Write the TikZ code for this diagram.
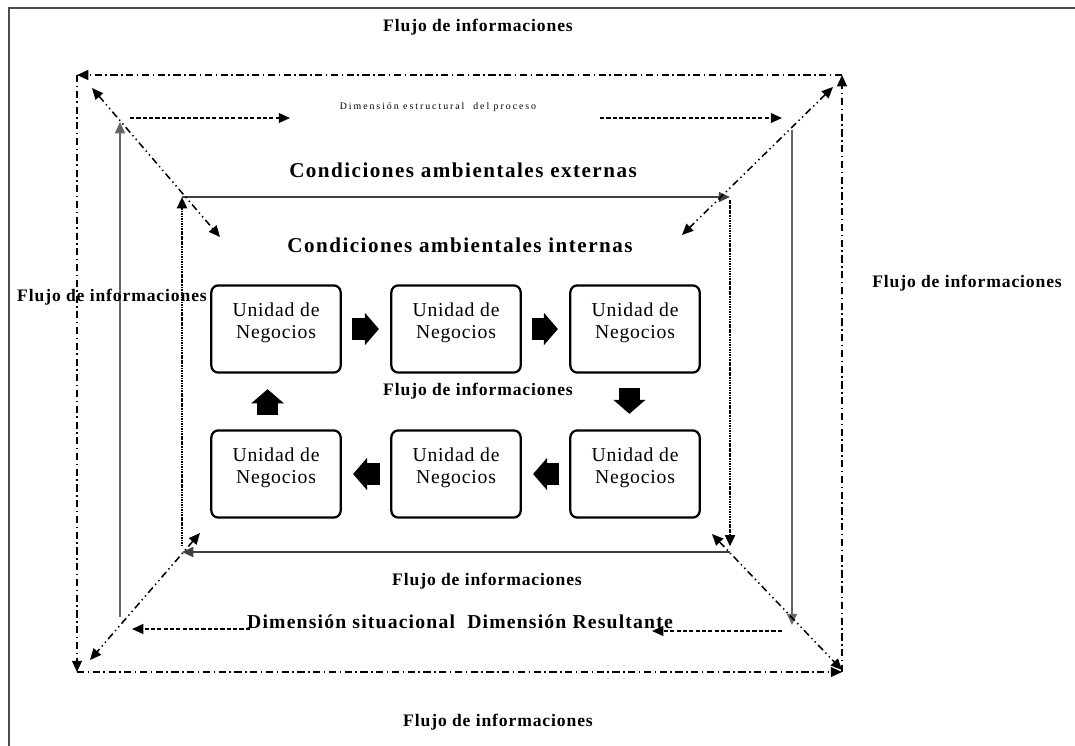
\documentclass[tikz,border=0pt]{standalone}
\usepackage{fontspec}
\setmainfont{Liberation Serif}
\newfontfamily\flowfont{Liberation Serif}[LetterSpace=5]
\newfontfamily\condfont{Liberation Serif}[LetterSpace=7]
\newfontfamily\dimfont{Liberation Serif}[LetterSpace=6]
\newfontfamily\unitfont{Liberation Serif}[LetterSpace=4]
\newfontfamily\tinyfont{Liberation Serif}[LetterSpace=20]
\usepackage{tikz}
\usetikzlibrary{arrows.meta,calc}

\begin{document}
\begin{tikzpicture}[x=0.025cm, y=-0.025cm,
        flow/.style={font=\flowfont\bfseries\fontsize{12.5}{14}\selectfont, inner sep=0pt},
        cond/.style={font=\condfont\bfseries\fontsize{15}{17}\selectfont, inner sep=0pt},
        unit/.style={draw, rounded corners=5pt, line width=1.6pt, align=center,
                     font=\unitfont\fontsize{14}{16}\selectfont,
                     minimum width=92pt, minimum height=62pt},
        tip/.style={-{Triangle[length=8pt, width=7pt]}},
        outer/.style={tip, line width=1.1pt, dash pattern=on 5pt off 2.5pt on 1.2pt off 2.5pt},
        diag/.style={{Triangle[length=8pt, width=7pt]}-{Triangle[length=8pt, width=7pt]},
                     line width=1.1pt, dash pattern=on 5pt off 2.5pt on 1pt off 2.5pt on 1pt off 2.5pt},
        mid/.style={tip, line width=1.3pt, gray!80!black},
        middash/.style={tip, line width=1.1pt, dash pattern=on 3pt off 1.5pt},
        inner/.style={tip, line width=1.5pt, black!75},
        innerdot/.style={tip, line width=1.6pt, dash pattern=on 1.2pt off 0.6pt},
        blockarr/.style={-{Triangle[length=10pt, width=22.5pt]}, line width=15pt}
    ]
        \useasboundingbox (0,0) rectangle (1075,745);
        % frame
        \draw[line width=1.2pt, black!70] (9,760) |- (1090,8);

        % corners
        \coordinate (onw) at (77,75);   \coordinate (one) at (842,75);
        \coordinate (osw) at (77,672);  \coordinate (ose) at (842,672);
        \coordinate (mnw) at (120,122); \coordinate (msw) at (120,617);
        \coordinate (mne) at (792,130); \coordinate (mse) at (792,625);
        \coordinate (inw) at (182,197); \coordinate (ine) at (730,197);
        \coordinate (isw) at (182,552); \coordinate (ise) at (730,552);

        % outer frame of the process
        \draw[outer] (one) -- (onw);
        \draw[outer] (onw) -- (osw);
        \draw[outer] (osw) -- (ose);
        \draw[outer] (ose) -- (one);

        % middle frame
        \draw[mid] (msw) -- (mnw);
        \draw[mid] (mne) -- (mse);
        \node[font=\tinyfont\fontsize{7}{8}\selectfont, inner sep=0pt] (dimest) at (438,107) {Dimensión estructural\ \ del proceso};
        \coordinate (t1) at (130,118); \coordinate (t2) at (290,118);
        \coordinate (t3) at (600,118); \coordinate (t4) at (782,118);
        \draw[middash] (t1) -- (t2);
        \draw[middash] (t3) -- (t4);
        \node[font=\dimfont\bfseries\fontsize{14}{16}\selectfont, inner sep=0pt] (dimsit) at (460,622) {Dimensión situacional\ \ Dimensión Resultante};
        \coordinate (b1) at (782,631); \coordinate (b2) at (652,631);
        \coordinate (b3) at (250,629); \coordinate (b4) at (132,629);
        \draw[middash] (b1) -- (b2);
        \draw[middash] (b3) -- (b4);

        % inner frame
        \draw[inner] (inw) -- (ine);
        \draw[innerdot] ([yshift=-2pt]ine) -- ([yshift=4pt]ise);
        \draw[inner] (ise) -- (isw);
        \draw[innerdot] ([yshift=4pt]isw) -- (inw);

        % diagonals
        \coordinate (d1) at (92,88);   \coordinate (d2) at (220,237);
        \coordinate (d3) at (833,87);  \coordinate (d4) at (682,235);
        \coordinate (d5) at (200,533); \coordinate (d6) at (90,660);
        \coordinate (d7) at (712,534); \coordinate (d8) at (842,670);
        \draw[diag] (d1) -- (d2);
        \draw[diag] (d3) -- (d4);
        \draw[diag] (d5) -- (d6);
        \draw[diag] (d7) -- (d8);

        % labels
        \node[flow] (ftop) at (478,27) {Flujo de informaciones};
        \node[flow] (fleft) at (112,297) {Flujo de informaciones};
        \node[flow] (fright) at (967,283) {Flujo de informaciones};
        \node[flow] (fmid) at (478,391) {Flujo de informaciones};
        \node[flow] (flow) at (487,581) {Flujo de informaciones};
        \node[flow] (fbot) at (498,722) {Flujo de informaciones};
        \node[cond] (ext) at (463,170) {Condiciones ambientales externas};
        \node[cond] (int) at (460,245) {Condiciones ambientales internas};

        % business units
        \node[unit] (u1) at (276,329) {Unidad de\\Negocios\\[-4pt]};
        \node[unit] (u2) at (456,329) {Unidad de\\Negocios\\[-4pt]};
        \node[unit] (u3) at (635,329) {Unidad de\\Negocios\\[-4pt]};
        \node[unit] (u4) at (635,474) {Unidad de\\Negocios\\[-4pt]};
        \node[unit] (u5) at (456,474) {Unidad de\\Negocios\\[-4pt]};
        \node[unit] (u6) at (276,474) {Unidad de\\Negocios\\[-4pt]};

        \draw[blockarr, shorten <=7pt, shorten >=8pt] (u1) -- (u2);
        \draw[blockarr, shorten <=7pt, shorten >=8pt] (u2) -- (u3);
        \draw[blockarr, shorten <=10pt, shorten >=11pt] ([xshift=-4pt]u3.south) -- ([xshift=-4pt]u4.north);
        \draw[blockarr, shorten <=7pt, shorten >=8pt] (u4) -- (u5);
        \draw[blockarr, shorten <=7pt, shorten >=8pt] (u5) -- (u6);
        \draw[blockarr, shorten <=10pt, shorten >=11pt] ([xshift=-6pt]u6.north) -- ([xshift=-6pt]u1.south);
\end{tikzpicture}
\end{document}
